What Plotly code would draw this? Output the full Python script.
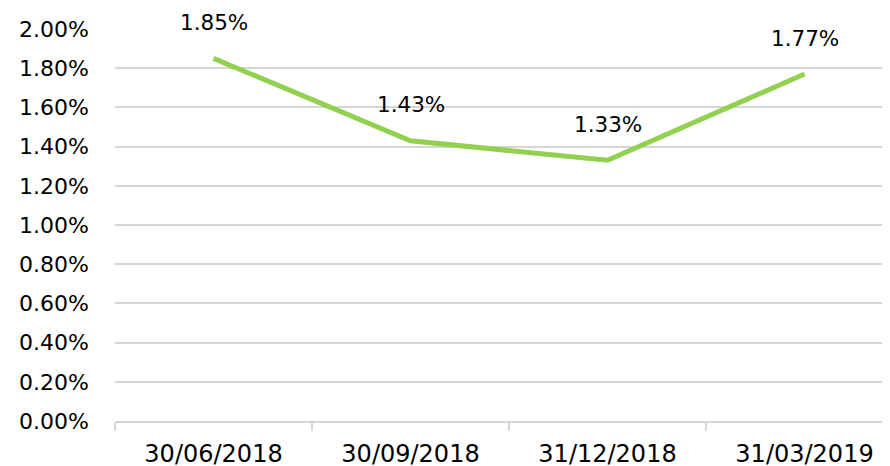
import plotly.graph_objects as go

categories = ["30/06/2018", "30/09/2018", "31/12/2018", "31/03/2019"]
values = [0.0185, 0.0143, 0.0133, 0.0177]
labels = ["1.85%", "1.43%", "1.33%", "1.77%"]
y_ticks = [0.0, 0.002, 0.004, 0.006, 0.008, 0.010, 0.012, 0.014, 0.016, 0.018, 0.020]

FONT = "DejaVu Sans"
GREEN = "#92D050"
GRID = "#d6d6d6"

fig = go.Figure()
fig.add_trace(go.Scatter(
    x=categories, y=values, mode="lines",
    line=dict(color=GREEN, width=5),
    hoverinfo="skip", showlegend=False,
))

for c, v, t in zip(categories, values, labels):
    fig.add_annotation(x=c, y=v, text=t, showarrow=False, yshift=36,
                       font=dict(family=FONT, size=21.5, color="#000000"))

fig.update_layout(
    width=890, height=466,
    margin=dict(l=107, r=8, t=21, b=53, autoexpand=False),
    paper_bgcolor="white", plot_bgcolor="white",
    xaxis=dict(
        type="category", range=[-0.5, 3.434], automargin=False,
        tickson="boundaries", ticks="outside", ticklen=8, tickcolor=GRID, tickwidth=1.5,
        showgrid=False, showline=True, linecolor=GRID, linewidth=1.5,
        tickfont=dict(family=FONT, size=24, color="#000000"),
        ticklabelstandoff=10,
        zeroline=False,
    ),
    yaxis=dict(
        range=[0, 0.02], tickvals=y_ticks, tickformat=".2%", automargin=False,
        showgrid=True, gridcolor=GRID, gridwidth=1.5,
        showline=False, zeroline=False, ticks="",
        tickfont=dict(family=FONT, size=22, color="#000000"),
        ticklabelstandoff=25,
    ),
)

fig.write_html("out.html")
